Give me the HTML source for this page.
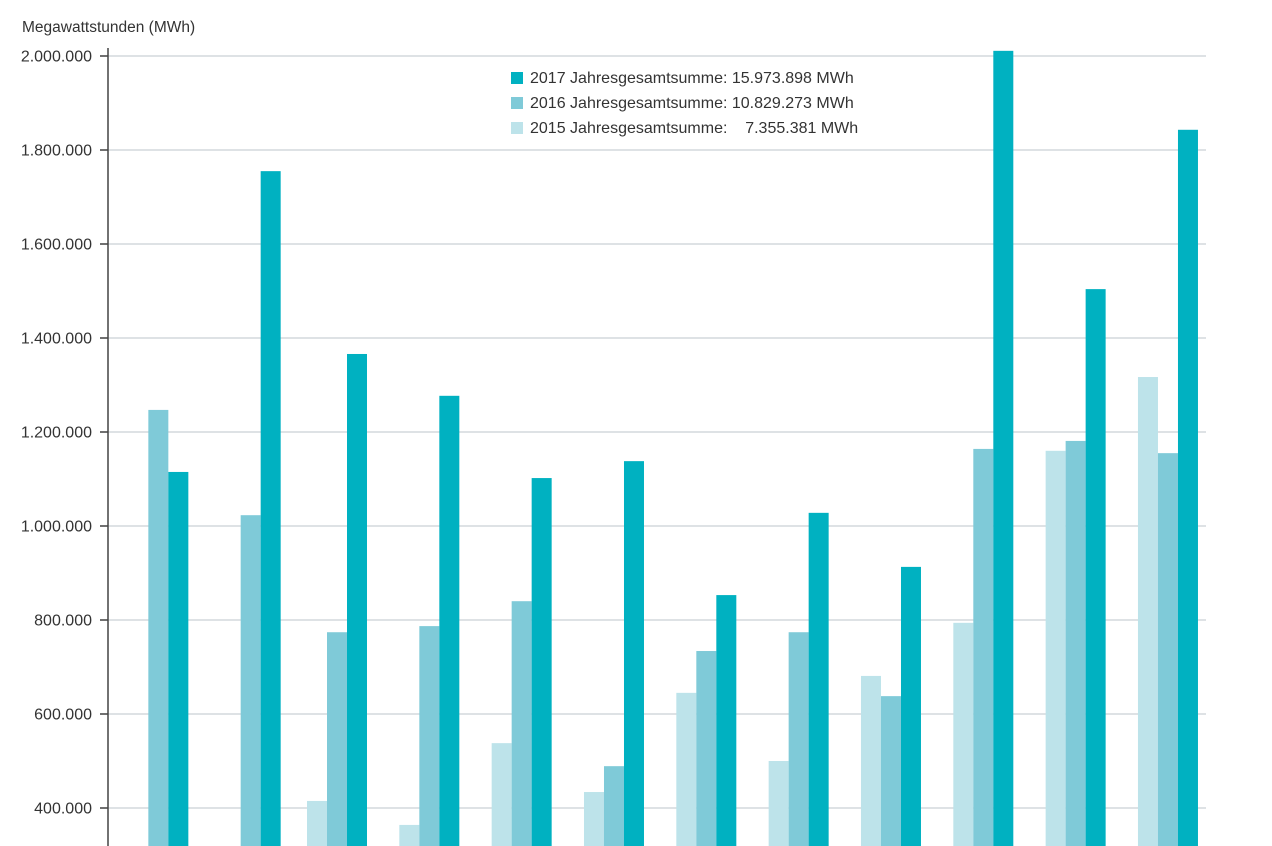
<!DOCTYPE html>
<html><head><meta charset="utf-8"><style>
html,body{margin:0;padding:0;background:#fff;overflow:hidden;width:1272px;height:846px}
svg{display:block}
svg text{font-family:"Liberation Sans",sans-serif;fill:#333}
</style></head><body>
<svg id="chart" width="1272" height="846" xmlns="http://www.w3.org/2000/svg">
<text x="22" y="32" font-size="15.5">Megawattstunden (MWh)</text>
<g id="grid"></g><g id="bars"></g>
<line x1="108" y1="48" x2="108" y2="846" stroke="#444" stroke-width="1.5"/>
<g id="legend">
<rect x="511" y="72" width="12" height="12" fill="#00b1c1"/>
<text x="530" y="83" font-size="16">2017 Jahresgesamtsumme: 15.973.898 MWh</text>
<rect x="511" y="97" width="12" height="12" fill="#7fcad8"/>
<text x="530" y="108" font-size="16">2016 Jahresgesamtsumme: 10.829.273 MWh</text>
<rect x="511" y="122" width="12" height="12" fill="#bde3ea"/>
<text x="530" y="133" font-size="16" xml:space="preserve">2015 Jahresgesamtsumme:    7.355.381 MWh</text>
</g>
</svg>
<script>
const ticks=[400000,600000,800000,1000000,1200000,1400000,1600000,1800000,2000000];
const tickLabels=["400.000","600.000","800.000","1.000.000","1.200.000","1.400.000","1.600.000","1.800.000","2.000.000"];
const months=[1,2,3,4,5,6,7,8,9,10,11,12];
const v2015=[null,null,415000,364000,538000,434000,645000,500000,681000,794000,1160000,1317000];
const v2016=[1247000,1023000,774000,787000,840000,489000,734000,774000,638000,1164000,1181000,1155000];
const v2017=[1115000,1755000,1366000,1277000,1102000,1138000,853000,1028000,913000,2011000,1504000,1843000];
const NS="http://www.w3.org/2000/svg";
function y(v){return 56+(2000000-v)/200000*94;}
function xc(i){return 337+(i-2)*92.33;}
const grid=document.getElementById('grid'),bars=document.getElementById('bars');
ticks.forEach((t,k)=>{
 const l=document.createElementNS(NS,'line');
 l.setAttribute('x1',100);l.setAttribute('x2',1206);l.setAttribute('y1',y(t));l.setAttribute('y2',y(t));
 l.setAttribute('stroke','#c9d1d5');l.setAttribute('stroke-width','1.2');
 
 
 grid.appendChild(l);
 const tk=document.createElementNS(NS,'line');
 tk.setAttribute('x1',100);tk.setAttribute('x2',108);tk.setAttribute('y1',y(t));tk.setAttribute('y2',y(t));
 tk.setAttribute('stroke','#444');tk.setAttribute('stroke-width','1.5');
 
 
 grid.appendChild(tk);
 const tx=document.createElementNS(NS,'text');
 tx.setAttribute('x',92);tx.setAttribute('y',y(t)+5.5);tx.setAttribute('text-anchor','end');tx.setAttribute('font-size','16');
 tx.textContent=tickLabels[k];
 
 
 grid.appendChild(tx);
});
const series=[[v2015,'#bde3ea',-30,'2015'],[v2016,'#7fcad8',-10,'2016'],[v2017,'#00b1c1',10,'2017']];
series.forEach(s=>{
 months.forEach((m,i)=>{
  const val=s[0][i];
  if(val===null||val===undefined)return;
  const shift=(v2015[i]===null)?6:0;
  const r=document.createElementNS(NS,'rect');
  const top=y(val);
  r.setAttribute('x',xc(i)+s[2]+shift);r.setAttribute('width',20);
  r.setAttribute('y',top);r.setAttribute('height',Math.max(0,846-top));
  r.setAttribute('fill',s[1]);
  
  
  bars.appendChild(r);
 });
});
</script>
</body></html>
